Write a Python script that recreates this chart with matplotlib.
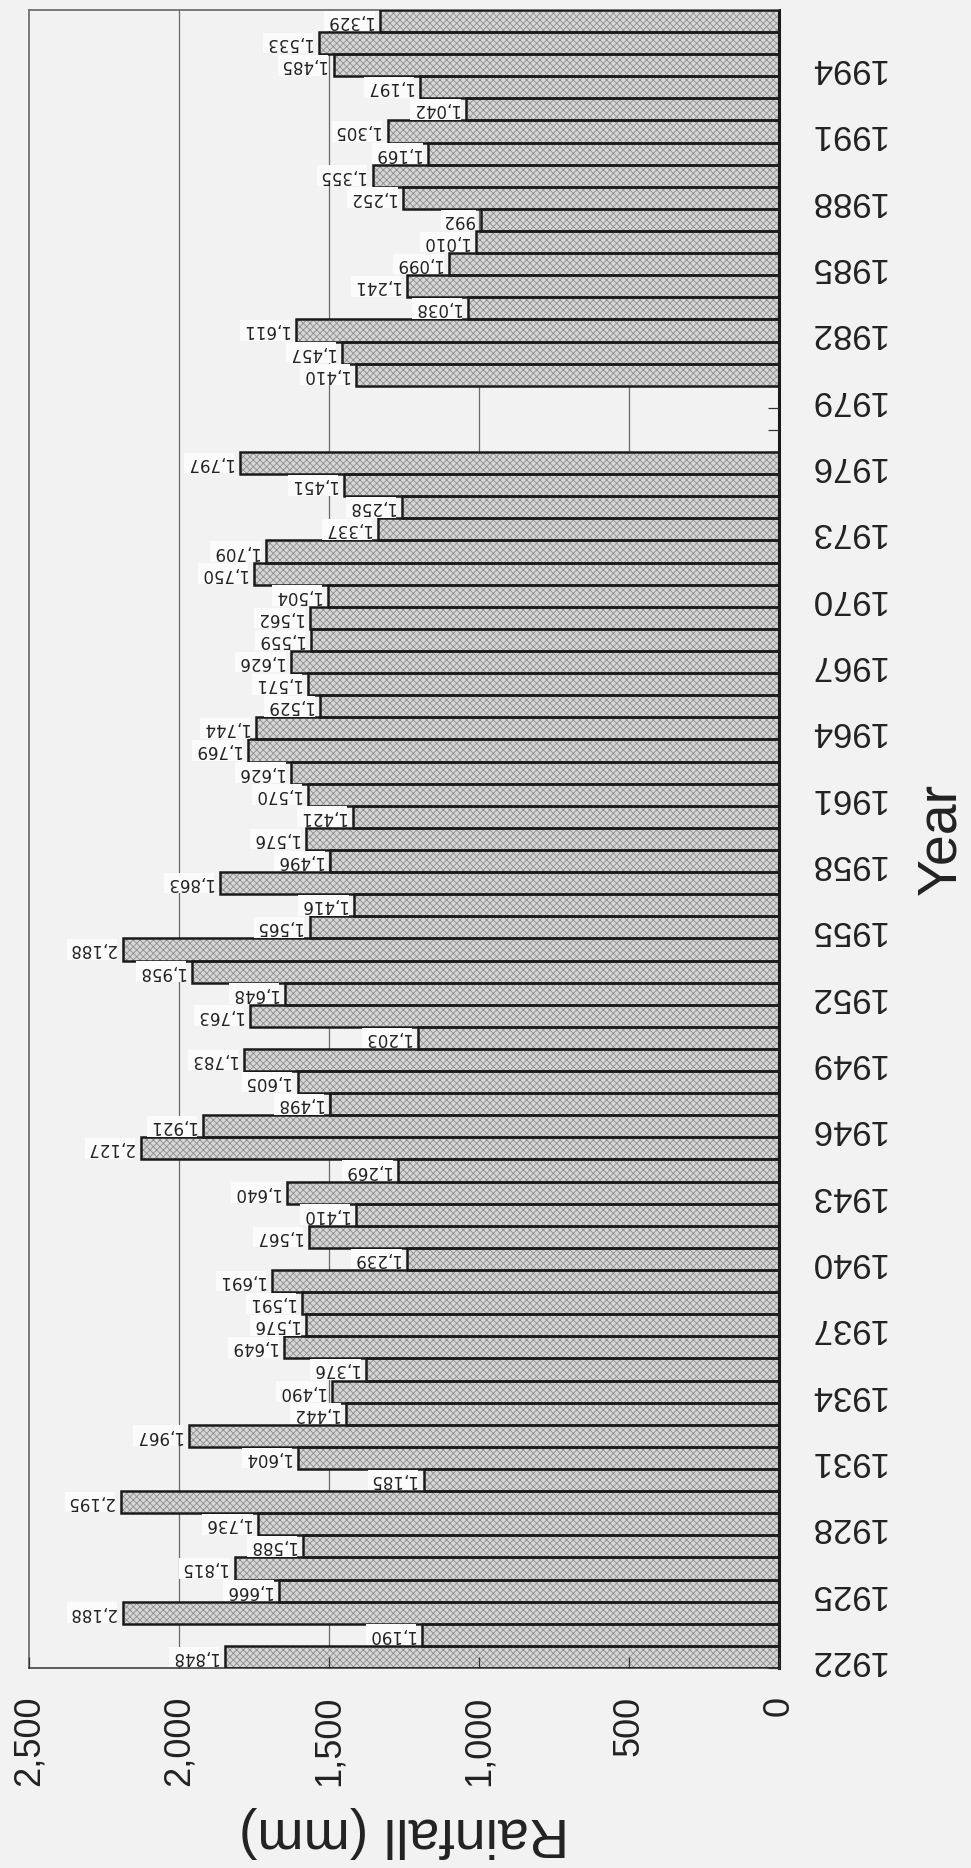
import matplotlib.pyplot as plt
import numpy as np

# Annual rainfall, 1922-1996 (no record for 1977-1979)
years = list(range(1922, 1977)) + list(range(1980, 1997))
rain = [1848, 1190, 2188, 1666, 1815, 1588, 1736, 2195, 1185, 1604,
        1967, 1442, 1490, 1376, 1649, 1576, 1591, 1691, 1239, 1567,
        1410, 1640, 1269, 2127, 1921, 1498, 1605, 1783, 1203, 1763,
        1648, 1958, 2188, 1565, 1416, 1863, 1496, 1576, 1421, 1570,
        1626, 1769, 1744, 1529, 1571, 1626, 1559, 1562, 1504, 1750,
        1709, 1337, 1258, 1451, 1797,
        1410, 1457, 1611, 1038, 1241, 1099, 1010, 992, 1252, 1355,
        1169, 1305, 1042, 1197, 1485, 1533, 1329]

year_ticks = list(range(1922, 1995, 3))
rain_ticks = [0, 500, 1000, 1500, 2000, 2500]

paper = '#f2f2f2'
ink = '#222222'
sans = ['Liberation Sans', 'DejaVu Sans']

plt.rcParams['hatch.color'] = '#8e8e8e'
plt.rcParams['hatch.linewidth'] = 0.6

fig = plt.figure(figsize=(9.71, 18.68), dpi=100, facecolor=paper)
ax = fig.add_axes([0.0299, 0.1071, 0.7724, 0.8876], facecolor=paper)

# gridlines sit behind the bars
for t in rain_ticks[1:-1]:
    ax.axvline(t, color='#6a6a6a', lw=0.9, zorder=1)

# stippled fill, then black outlines on top
ax.barh(years, rain, height=1.0, color='#d6d6d6', edgecolor='#8e8e8e',
        hatch='xxxxx', linewidth=0, zorder=2)
ax.barh(years, rain, height=1.0, fill=False, edgecolor='#1a1a1a',
        linewidth=1.8, zorder=3)

for y, v in zip(years, rain):
    ax.annotate(f'{v:,}', (v, y), xytext=(-7, 0), textcoords='offset pixels',
                rotation=180, ha='right', va='center', fontsize=12,
                family='DejaVu Sans', color=ink, zorder=5,
                bbox=dict(boxstyle='square,pad=0.08', fc='#fbfbfb', ec='none'))

ax.set_xlim(2500, 0)
ax.set_ylim(1921.5, 1996.5)

ax.set_xticks(rain_ticks)
ax.set_xticklabels([f'{t:,}' for t in rain_ticks], rotation=90,
                   family=sans, fontsize=26, color=ink)
ax.set_yticks(year_ticks)
ax.set_yticklabels([str(y) for y in year_ticks], rotation=180,
                   family=sans, fontsize=25, color=ink)
ax.set_yticks(np.arange(1921.5, 1997, 1.0), minor=True)

ax.yaxis.tick_right()
ax.tick_params(axis='x', direction='in', length=8, width=0.9, pad=20,
               color='#333333')
ax.tick_params(axis='y', which='major', length=0, pad=21)
ax.tick_params(axis='y', which='minor', direction='in', length=8,
               width=0.9, color='#333333')
ax.set_axisbelow(False)

ax.set_xlabel('Rainfall (mm)', rotation=180, family=sans, fontsize=40,
              color=ink, va='center')
ax.xaxis.set_label_coords(0.5, -0.099)
ax.yaxis.set_label_position('right')
ax.set_ylabel('Year', rotation=90, family=sans, fontsize=40, color=ink,
              va='center')
ax.yaxis.set_label_coords(1.216, 0.5)

for side in ['left', 'top']:
    ax.spines[side].set_linestyle((0, (1, 1)))
    ax.spines[side].set_color('#707070')
    ax.spines[side].set_linewidth(1.3)
ax.spines['bottom'].set_color('#505050')
ax.spines['bottom'].set_linewidth(1.3)
ax.spines['right'].set_color('#1a1a1a')
ax.spines['right'].set_linewidth(2.2)

fig.savefig('out.png', dpi=100, facecolor=paper)
